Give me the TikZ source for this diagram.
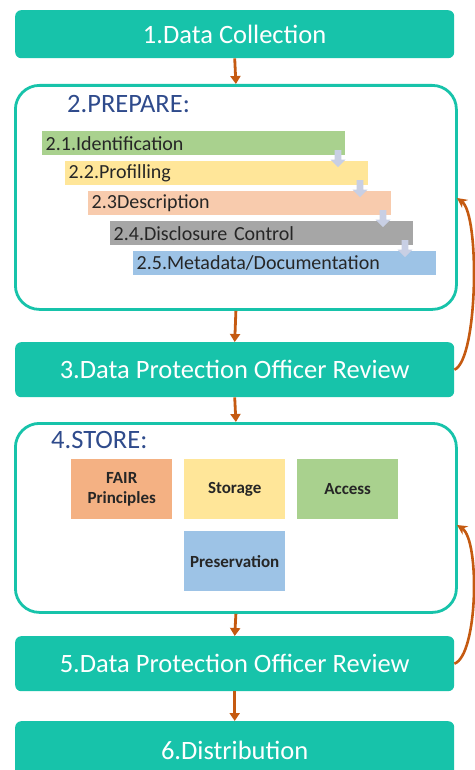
\documentclass[tikz,border=0pt]{standalone}
\usepackage{fontspec}
\setmainfont{Carlito}
\usetikzlibrary{arrows.meta,shapes.arrows}
\definecolor{teal1}{HTML}{17C3AA}
\definecolor{arr}{HTML}{C55A11}
\definecolor{titleblue}{HTML}{2F4B8C}
\definecolor{cgreen}{HTML}{A9D18E}
\definecolor{cyellow}{HTML}{FFE699}
\definecolor{csalmon}{HTML}{F8CBAD}
\definecolor{cgray}{HTML}{A6A6A6}
\definecolor{cblue}{HTML}{9DC3E6}
\definecolor{corange}{HTML}{F4B183}
\definecolor{smallarr}{HTML}{C8CFE4}
\begin{document}
\begin{tikzpicture}[x=1pt,y=-1pt,
  stage/.style={fill=teal1,draw=none,rounded corners=6pt,text=white,font=\fontsize{26.5}{30}\selectfont},
  group/.style={draw=teal1,line width=2.8pt,rounded corners=24pt,fill=white},
  bar/.style={draw=none,anchor=north west,minimum height=24pt,minimum width=303pt,inner sep=0pt,text=black!85,font=\fontsize{20}{22}\selectfont,align=left,text width=296pt},
  cell/.style={draw=none,minimum width=101pt,minimum height=60pt,inner sep=0pt,anchor=north west,font=\bfseries\fontsize{17}{20}\selectfont,text=black!85,align=center},
  flow/.style={draw=arr,line width=2.8pt,-{Triangle[length=8pt,width=10pt]}},
  back/.style={draw=arr,line width=2.6pt,-{Stealth[length=10pt,width=10pt]}},
  mini/.style={single arrow,shape border rotate=270,fill=smallarr,draw=none,minimum width=15pt,single arrow head extend=2pt,minimum height=17pt,inner sep=1.5pt}
]
\useasboundingbox (0,0) rectangle (474,770);
% stage boxes
\node[stage,minimum width=439pt,minimum height=48pt,anchor=north west] (s1) at (15,10) {1.Data Collection};
\node[group,minimum width=441pt,minimum height=224pt,anchor=north west] (prep) at (14,84) {};
\node[stage,minimum width=439pt,minimum height=55pt,anchor=north west] (s3) at (15,342) {3.Data Protection Officer Review};
\node[group,minimum width=441pt,minimum height=189pt,anchor=north west] (store) at (14,422) {};
\node[stage,minimum width=439pt,minimum height=55pt,anchor=north west] (s5) at (15,636) {5.Data Protection Officer Review};
\node[stage,minimum width=439pt,minimum height=58pt,anchor=north west] (s6) at (15,721) {6.Distribution};
% titles
\node[anchor=west,text=titleblue,font=\fontsize{26.5}{30}\selectfont,inner sep=0pt] (pt) at (67,104) {2.PREPARE:};
\node[anchor=west,text=titleblue,font=\fontsize{26.5}{30}\selectfont,inner sep=0pt] (st) at (51,440) {4.STORE:};
% bars
\node[bar,fill=cgreen] (b1) at (42,131) {2.1.Identification};
\node[bar,fill=cyellow] (b2) at (65,161) {2.2.Profilling};
\node[bar,fill=csalmon] (b3) at (88,191) {2.3Description};
\node[bar,fill=cgray] (b4) at (110,221) {2.4.Disclosure Control};
\node[bar,fill=cblue] (b5) at (133,251) {2.5.Metadata/Documentation};
\node[mini] (m1) at (338,157) {};
\node[mini] (m2) at (360,187) {};
\node[mini] (m3) at (383,217) {};
\node[mini] (m4) at (405,247) {};
% store cells
\node[cell,fill=corange] (c1) at (71,459) {FAIR\\Principles};
\node[cell,fill=cyellow] (c2) at (184,459) {Storage};
\node[cell,fill=cgreen] (c3) at (297,459) {Access};
\node[cell,fill=cblue] (c4) at (184,531) {Preservation};
% flow arrows
\draw[flow] (s1.south) -- (prep.north);
\draw[flow] (prep.south) -- (s3.north);
\draw[flow] (s3.south) -- (store.north);
\draw[flow] (store.south) -- (s5.north);
\draw[flow] (s5.south) -- (s6.north);
% feedback arrows
\coordinate (fb1) at (457,198);
\coordinate (fb2) at (457,525);
\draw[back] (s3.east) .. controls (478,360) and (480,215) .. (fb1);
\draw[back] (s5.east) .. controls (478,655) and (480,540) .. (fb2);
\end{tikzpicture}
\end{document}
